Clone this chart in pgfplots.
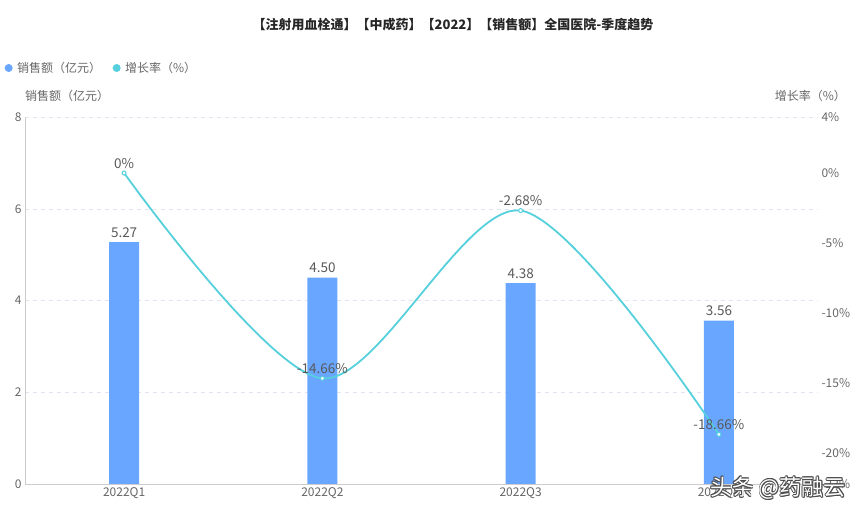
\documentclass[border=0pt]{standalone}
\usepackage{pgfplots}
\pgfplotsset{compat=1.18}
\usepackage{fontspec}
\setmainfont{Noto Sans CJK SC}
\definecolor{barblue}{HTML}{68A6FF}
\definecolor{linecyan}{HTML}{55D0DC}
\definecolor{txtgray}{HTML}{666666}
\definecolor{lblgray}{HTML}{595959}
\definecolor{gridgray}{HTML}{E0E6F1}
\definecolor{axisgray}{HTML}{CCCCCC}
\begin{document}
\begin{tikzpicture}[x=1pt,y=1pt]
\useasboundingbox (0,0) rectangle (862,514);
\begin{axis}[
  at={(25pt,30pt)}, anchor=south west, scale only axis,
  width=793pt, height=367pt,
  xmin=-0.5, xmax=3.5, ymin=0, ymax=8,
  ytick={0,2,4,6,8},
  xtick={0,1,2,3}, xticklabels={2022Q1,2022Q2,2022Q3,2022Q4},
  major x tick style={draw=none},
  ytick style={draw=none},
  extra x ticks={-0.5,0.5,1.5,2.5,3.5}, extra x tick labels={},
  extra x tick style={major tick length=5pt, tick align=outside, major tick style={draw=axisgray}, grid=none},
  axis x line*=bottom, axis y line*=left,
  axis line style={draw=axisgray, -},
  ymajorgrids, grid style={dash pattern=on 4pt off 4pt, gridgray},
  tick label style={font=\fontsize{12}{14}\selectfont, color=txtgray},
  /pgf/number format/assume math mode=true,
  clip=false,
]
\addplot[ybar, bar shift=0pt, bar width=30pt, fill=barblue, draw=none,
  nodes near coords={\pgfmathprintnumber[fixed,fixed zerofill,precision=2,assume math mode=true]{\pgfplotspointmeta}},
  nodes near coords style={font=\fontsize{13.5}{15}\selectfont, color=lblgray, anchor=south, yshift=1pt}]
  coordinates {(0,5.27) (1,4.50) (2,4.38) (3,3.56)};
\end{axis}
\begin{axis}[
  at={(25pt,30pt)}, anchor=south west, scale only axis,
  width=793pt, height=367pt,
  xmin=-0.5, xmax=3.5, ymin=-22.2, ymax=4,
  axis x line=none, axis y line*=right,
  axis line style={draw=none},
  ytick={-20,-15,-10,-5,0,4},
  extra y ticks={-22.2}, extra y tick labels={-22\%},
  yticklabel={\pgfmathprintnumber{\tick}\%},
  ytick style={draw=none}, extra y tick style={major tick style={draw=none}},
  tick label style={font=\fontsize{12}{14}\selectfont, color=txtgray},
  /pgf/number format/assume math mode=true,
  clip=false,
  legend style={at={(axis description cs:-0.0265,1.1335)}, anchor=west, draw=none, fill=none,
    font=\fontsize{12}{14}\selectfont, text=txtgray, legend columns=2, inner sep=0pt,
    /tikz/every even column/.append style={column sep=9pt}},
]
\addlegendimage{legend image code/.code={\path[draw=none,fill=none] (0pt,0pt) -- (11pt,0pt); \fill[barblue,draw=none] (4.5pt,0pt) circle (4pt);}}
\addlegendentry{销售额（亿元）}
\addlegendimage{legend image code/.code={\path[draw=none,fill=none] (0pt,0pt) -- (11pt,0pt); \fill[linecyan,draw=none] (4.5pt,0pt) circle (4pt);}}
\addlegendentry{增长率（\%）}
\addplot[forget plot, linecyan, line width=1.8pt, smooth, tension=0.5, mark=*, mark size=2pt,
  mark options={fill=white, draw=linecyan, line width=1pt}]
  coordinates {(0,0) (1,-14.66) (2,-2.68) (3,-18.66)};
\end{axis}
\begin{axis}[
  at={(25pt,30pt)}, anchor=south west, scale only axis,
  width=793pt, height=367pt,
  xmin=-0.5, xmax=3.5, ymin=-22.2, ymax=4,
  axis lines=none, ticks=none, clip=false,
]
\addplot[draw=none, mark=none,
  nodes near coords={\pgfmathprintnumber[fixed,precision=2,assume math mode=true]{\pgfplotspointmeta}\%},
  nodes near coords style={font=\fontsize{13.5}{15}\selectfont, color=lblgray, anchor=south, yshift=1pt}]
  coordinates {(0,0) (1,-14.66) (2,-2.68) (3,-18.66)};
\end{axis}
\node[font=\bfseries\fontsize{13}{15}\selectfont, color=black!85] at (453,489) {【注射用血栓通】【中成药】【2022】【销售额】全国医院-季度趋势};
\node[anchor=west, font=\fontsize{12}{14}\selectfont, color=txtgray, inner sep=0pt] at (25,418) {销售额（亿元）};
\node[anchor=east, font=\fontsize{12}{14}\selectfont, color=txtgray, inner sep=0pt] at (846,418) {增长率（\%）};
\foreach \dx/\dy in {0.9/0,-0.9/0,0/0.9,0/-0.9,0.7/0.7,-0.7/-0.7,0.7/-0.7,-0.7/0.7}
  \node[anchor=east, font=\fontsize{22}{24}\selectfont, color=black!70, inner sep=0pt] at (846+\dx,26+\dy) {头条 @药融云};
\node[anchor=east, font=\fontsize{22}{24}\selectfont, color=white, inner sep=0pt] at (846,26) {头条 @药融云};
\end{tikzpicture}
\end{document}
